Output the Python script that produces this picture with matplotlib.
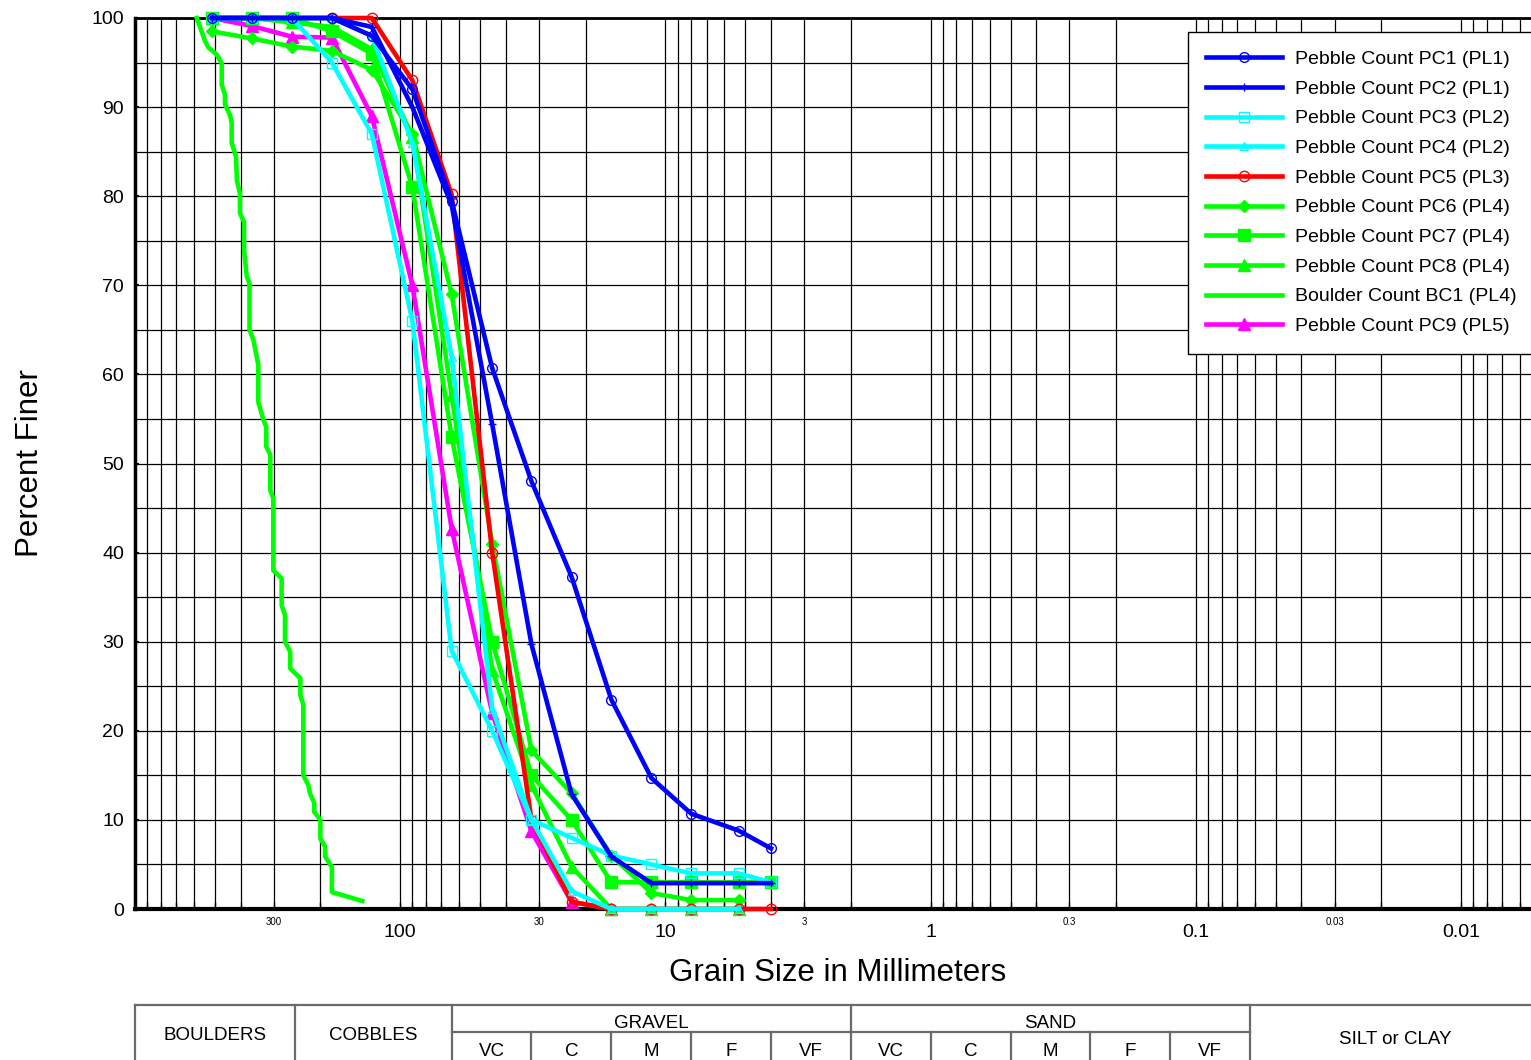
import numpy as np
import matplotlib
matplotlib.use("Agg")
import matplotlib.pyplot as plt
from matplotlib.ticker import FixedLocator, FuncFormatter, NullFormatter

plt.rcParams['font.family'] = ['Liberation Sans', 'DejaVu Sans']

# ---------------- data ----------------
sieve_mm = [512, 362, 256, 181, 128, 90, 64, 45, 32, 22.6, 16, 11.3, 8, 5.3, 4]

pc1 = [100, 100, 100, 100, 98, 92, 79.5, 60.7, 48, 37.3, 23.5, 14.7, 10.7, 8.8, 6.8]
pc2 = [100, 100, 100, 100, 99, 90, 79, 54.4, 29.7, 12.9, 5.9, 2.9, 2.9, 2.9, 2.9]
pc3 = [100, 100, 100, 95, 87, 66, 29, 20, 10, 8, 6, 5, 4, 4, 3]
pc4 = [100, 100, 100, 100, 98, 86, 62, 22.5, 10, 2, 0, 0, 0, 0]
pc5_mm = [181, 128, 90, 64, 45, 32, 22.6, 16, 11.3, 8, 5.3, 4]
pc5 = [100, 100, 93, 80.2, 40, 10, 0.8, 0, 0, 0, 0, 0]
pc6 = [98.5, 97.7, 96.8, 96.3, 94.2, 87, 69, 41, 17.8, 13, 6, 1.8, 1, 1]
pc7 = [100, 100, 100, 98.5, 96, 81, 53, 30, 15, 10, 3, 3, 3, 3, 3]
pc8 = [100, 100, 99.5, 99, 96.5, 86.7, 57.7, 26.8, 13.9, 4.75, 0, 0, 0, 0]
pc9 = [100, 99.1, 97.9, 97.8, 89, 70, 42.7, 22, 8.7, 0.8, 0]

bc1_mm = [585, 544, 529, 492, 471, 471, 458, 458, 438, 432, 432, 416, 413, 402, 402,
          388, 388, 379, 370, 370, 358, 343, 343, 328, 320, 320, 309, 309, 301, 301,
          280, 280, 272, 272, 260, 260, 238, 238, 232, 232, 222, 219, 211, 211, 200,
          200, 192, 192, 181, 181, 139]
bc1 = [100, 97.4, 96.7, 95.9, 94.9, 92.5, 91.4, 90.3, 89.1, 88.2, 86.0, 84.4, 81.8, 80.3, 78.1,
       77.1, 74.0, 71.0, 70.2, 65.0, 63.9, 61.1, 56.9, 54.9, 54.1, 51.9, 51.0, 47.0, 46.1, 38.0,
       37.1, 34.1, 33.0, 30.0, 28.9, 27.0, 25.9, 24.0, 22.9, 15.0, 13.9, 13.0, 11.9, 10.9, 10.0,
       7.9, 7.0, 5.9, 4.7, 1.9, 0.9]

series_labels = ["Pebble Count PC1 (PL1)", "Pebble Count PC2 (PL1)", "Pebble Count PC3 (PL2)",
                 "Pebble Count PC4 (PL2)", "Pebble Count PC5 (PL3)", "Pebble Count PC6 (PL4)",
                 "Pebble Count PC7 (PL4)", "Pebble Count PC8 (PL4)", "Boulder Count BC1 (PL4)",
                 "Pebble Count PC9 (PL5)"]

major_labels = [100, 10, 1, 0.1, 0.01]
minor_labels = [300, 30, 3, 0.3, 0.03]

class_edges = [250, 64, 2, 0.0625]
classes = ["BOULDERS", "COBBLES", "GRAVEL", "SAND", "SILT or CLAY"]
gravel_edges = [64, 32, 16, 8, 4, 2]
sand_edges = [2, 1, 0.5, 0.25, 0.125, 0.0625]
sub_names = ["VC", "C", "M", "F", "VF"]

# ---------------- figure ----------------
W, H = 1531, 1060
fig = plt.figure(figsize=(W / 100, H / 100), dpi=100)
ax_l, ax_r, ax_t, ax_b = 135, 1541, 18, 909
ax = fig.add_axes([ax_l / W, 1 - ax_b / H, (ax_r - ax_l) / W, (ax_b - ax_t) / H])
ax.set_xscale('log')
XMAX, XMIN = 1000, 0.005
ax.set_xlim(XMAX, XMIN)
ax.set_ylim(0, 100)

BLUE, CYAN, RED, GREEN, MAG = '#0000FF', '#00FFFF', '#FF0000', '#00FF00', '#FF00FF'
lw = 3.3
n = len
specs = [
    (sieve_mm[:n(pc1)], pc1, BLUE, dict(marker='o', ms=7, mfc='none', mew=1.0)),
    (sieve_mm[:n(pc2)], pc2, BLUE, dict(marker='+', ms=6, mew=1.0)),
    (sieve_mm[:n(pc3)], pc3, CYAN, dict(marker='s', ms=7, mfc='none', mew=1.0)),
    (sieve_mm[:n(pc4)], pc4, CYAN, dict(marker='^', ms=6, mfc='none', mew=1.0)),
    (pc5_mm, pc5, RED, dict(marker='o', ms=7.5, mfc='none', mew=1.0)),
    (sieve_mm[:n(pc6)], pc6, GREEN, dict(marker='D', ms=6.5)),
    (sieve_mm[:n(pc7)], pc7, GREEN, dict(marker='s', ms=8.5)),
    (sieve_mm[:n(pc8)], pc8, GREEN, dict(marker='^', ms=8)),
    (bc1_mm, bc1, GREEN, dict(marker=None)),
    (sieve_mm[:n(pc9)], pc9, MAG, dict(marker='^', ms=8)),
]
handles = [None] * len(specs)
z = {0: 20, 1: 19, 2: 18, 3: 17, 4: 16, 5: 13, 6: 14, 7: 15, 8: 12, 9: 11}
for i, (xs, ys, c, kw) in enumerate(specs):
    h, = ax.plot(xs, ys, color=c, lw=lw, clip_on=False, zorder=z[i],
                 label=series_labels[i], **kw)
    handles[i] = h

# ticks and grid
ax.yaxis.set_major_locator(FixedLocator(list(range(0, 101, 10))))
ax.yaxis.set_minor_locator(FixedLocator(list(range(5, 100, 10))))
ax.xaxis.set_major_locator(FixedLocator(major_labels))
minor_x = []
for k in range(-3, 3):
    for d in range(1, 10):
        v = d * 10.0 ** k
        if XMIN <= v <= XMAX and not any(np.isclose(v, m) for m in major_labels):
            minor_x.append(v)
ax.xaxis.set_minor_locator(FixedLocator(minor_x))
ax.xaxis.set_major_formatter(FuncFormatter(lambda v, p: f"{v:g}"))
ax.xaxis.set_minor_formatter(FuncFormatter(
    lambda v, p: f"{v:g}" if any(np.isclose(v, m) for m in minor_labels) else ""))
ax.yaxis.set_minor_formatter(NullFormatter())

ax.tick_params(axis='x', which='major', labelsize=14, pad=11, direction='in', length=5, width=1)
ax.tick_params(axis='x', which='minor', labelsize=7, pad=5.5, direction='in', length=5, width=1)
ax.tick_params(axis='y', which='major', labelsize=14, pad=8, direction='in', length=3, width=1.5)
ax.tick_params(axis='y', which='minor', length=0)
ax.grid(True, which='both', color='black', lw=0.9)
ax.set_axisbelow(True)

for s, wdt in [('left', 2.5), ('bottom', 3), ('top', 2), ('right', 2)]:
    ax.spines[s].set_linewidth(wdt)
    ax.spines[s].set_color('black')

ax.set_ylabel("Percent Finer", fontsize=22.5)
ax.yaxis.set_label_coords((30 - ax_l) / (ax_r - ax_l), 0.5)
ax.yaxis.label.set_va('center')
ax.set_xlabel("Grain Size in Millimeters", fontsize=22.5)
ax.xaxis.set_label_coords((838 - ax_l) / (ax_r - ax_l), -(973 - ax_b) / (ax_b - ax_t))
ax.xaxis.label.set_va('center')

leg = ax.legend(handles=handles, loc='upper left',
                bbox_to_anchor=(1188 / W, 1 - 32 / H), bbox_transform=fig.transFigure,
                fontsize=14, frameon=True, fancybox=False, edgecolor='black',
                framealpha=1, handlelength=3.9, handletextpad=0.65,
                labelspacing=0.62, borderpad=0.95, borderaxespad=0)
leg.get_frame().set_linewidth(1.0)
leg.set_zorder(30)

# ---------------- classification table ----------------
t_top, t_bot = 1005, 1085
tax = fig.add_axes([ax_l / W, 1 - t_bot / H, (ax_r - ax_l) / W, (t_bot - t_top) / H])
tax.set_xscale('log')
tax.set_xlim(XMAX, XMIN)
tax.set_ylim(t_bot - t_top, 0)
tax.axis('off')
tc = '#6a6a6a'
tlw = 1.6
hdr = 27
tax.plot([XMAX, XMIN], [0, 0], color=tc, lw=tlw, clip_on=False)
tax.plot([XMAX, XMAX], [0, 80], color=tc, lw=tlw, clip_on=False)
for e in class_edges:
    tax.plot([e, e], [0, 80], color=tc, lw=tlw, clip_on=False)
for grp in (gravel_edges, sand_edges):
    tax.plot([grp[0], grp[-1]], [hdr, hdr], color=tc, lw=tlw, clip_on=False)
    for e in grp[1:-1]:
        tax.plot([e, e], [hdr, 80], color=tc, lw=tlw, clip_on=False)
    for a, b, nm in zip(grp[:-1], grp[1:], sub_names):
        tax.text(np.sqrt(a * b), 46, nm, ha='center', va='center', fontsize=13.5)

bounds = [XMAX] + class_edges + [XMIN]
for a, b, nm in zip(bounds[:-1], bounds[1:], classes):
    yy = 18 if nm in ("GRAVEL", "SAND") else (34 if nm.startswith("SILT") else 31)
    tax.text(np.sqrt(a * b), yy, nm, ha='center', va='center', fontsize=13.5)

fig.savefig("out.png", dpi=100)
